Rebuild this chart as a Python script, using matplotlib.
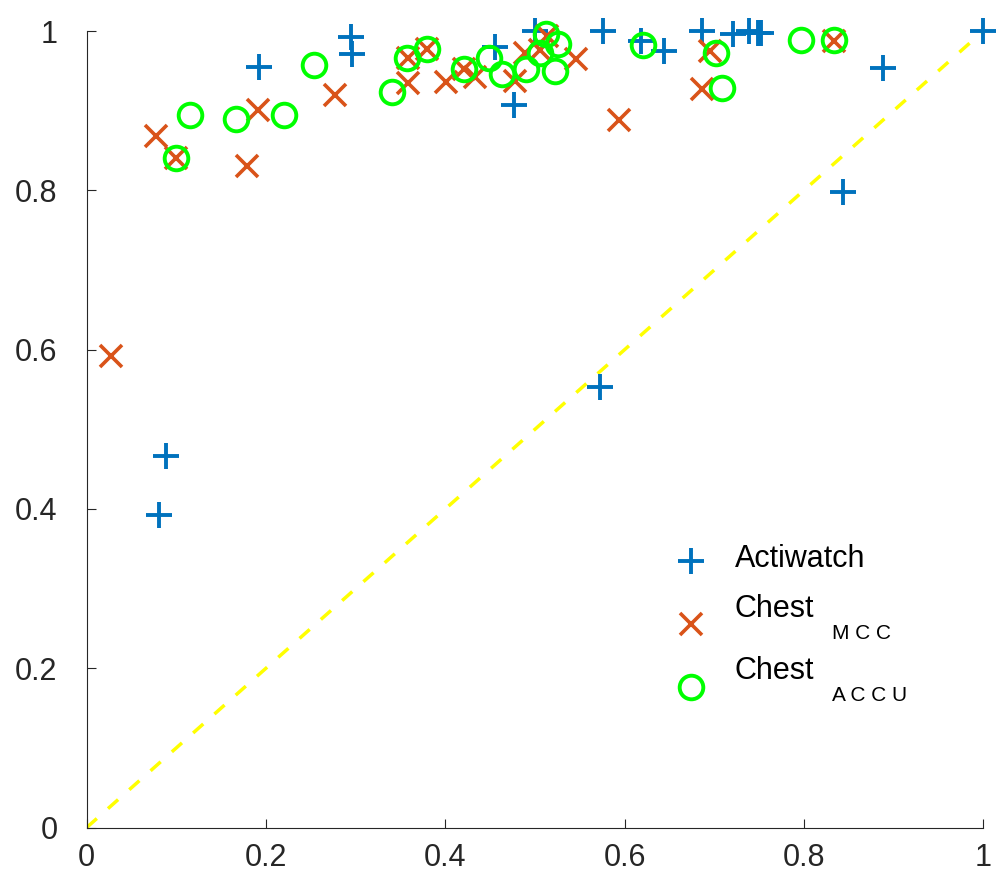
import matplotlib
matplotlib.use("Agg")
import matplotlib.pyplot as plt

plt.rcParams['font.family'] = ['Liberation Sans', 'DejaVu Sans']

# Actiwatch (+)
act_x = [0.081, 0.089, 0.192, 0.295, 0.296, 0.455, 0.477, 0.500, 0.572, 0.576,
         0.618, 0.644, 0.686, 0.721, 0.739, 0.749, 0.752, 0.843, 0.888, 1.000]
act_y = [0.392, 0.466, 0.955, 0.993, 0.971, 0.980, 0.907, 1.000, 0.553, 1.000,
         0.988, 0.975, 1.000, 0.996, 1.000, 0.997, 0.997, 0.798, 0.953, 1.000]

# Chest MCC (x)
mcc_x = [0.027, 0.077, 0.100, 0.179, 0.191, 0.277, 0.358, 0.358, 0.379, 0.401, 0.421,
         0.433, 0.478, 0.489, 0.506, 0.513, 0.546, 0.594, 0.686, 0.695, 0.833]
mcc_y = [0.592, 0.868, 0.841, 0.830, 0.901, 0.920, 0.935, 0.966, 0.978, 0.936, 0.952,
         0.942, 0.937, 0.973, 0.976, 0.994, 0.965, 0.888, 0.927, 0.975, 0.987]

# Chest ACCU (o)
accu_x = [0.100, 0.115, 0.166, 0.220, 0.254, 0.340, 0.357, 0.379, 0.421, 0.449, 0.463,
          0.490, 0.506, 0.512, 0.522, 0.526, 0.620, 0.702, 0.709, 0.797, 0.833]
accu_y = [0.841, 0.894, 0.890, 0.894, 0.957, 0.924, 0.966, 0.978, 0.952, 0.966, 0.946,
          0.952, 0.973, 0.996, 0.950, 0.984, 0.982, 0.972, 0.928, 0.989, 0.989]

ticks = [0, 0.2, 0.4, 0.6, 0.8, 1]
tick_labels = ["0", "0.2", "0.4", "0.6", "0.8", "1"]

fig = plt.figure(figsize=(9.97, 8.77), dpi=100)
ax = fig.add_axes([0.08696, 0.05644, 0.8993, 0.9082])

ax.plot([0, 1], [0, 1], color='#FFFF00', lw=2.5, linestyle=(0, (3.9, 4.3)), zorder=1)
ax.plot(act_x, act_y, '+', color='#0072BD', ms=19, mew=2.8, linestyle='none',
        clip_on=False, label='Actiwatch', zorder=3)
ax.plot(mcc_x, mcc_y, 'x', color='#D95319', ms=15.5, mew=2.6, linestyle='none',
        clip_on=False, label='Chest', zorder=4)
ax.plot(accu_x, accu_y, 'o', mfc='none', mec='#00FF00', ms=17, mew=2.8, linestyle='none',
        clip_on=False, label='Chest', zorder=5)

ax.set_xlim(0, 1)
ax.set_ylim(0, 1)
ax.set_xticks(ticks)
ax.set_xticklabels(tick_labels)
ax.set_yticks(ticks)
ax.set_yticklabels(tick_labels)
for side in ['top', 'right']:
    ax.spines[side].set_visible(False)
for side in ['left', 'bottom']:
    ax.spines[side].set_color('#262626')
    ax.spines[side].set_linewidth(0.8)
ax.tick_params(direction='in', length=6.5, width=0.8, colors='#262626', labelsize=22)
ax.tick_params(axis='x', pad=11)
ax.tick_params(axis='y', pad=21)

leg = ax.legend(loc='upper left', bbox_to_anchor=(0.6697, 0.3742),
                bbox_transform=fig.transFigure, frameon=False, fontsize=22,
                handlelength=1.5, handletextpad=0.7, labelspacing=1.07,
                borderpad=0, borderaxespad=0, numpoints=1)

# lift the labels above their markers, as in the original
fig.canvas.draw()
texts = leg.get_texts()
texts[0].set_position((0, 5))
for t in texts[1:]:
    t.set_position((0, 18))
fig.canvas.draw()

W, H = fig.bbox.width, fig.bbox.height
for t, sub in zip(texts[1:], ["M C C", "A C C U"]):
    ext = t.get_window_extent()
    fig.text((ext.x1 + 18) / W, (ext.y0 - 15) / H, sub, fontsize=15,
             va='baseline', ha='left', color='black')

fig.savefig("out.png", dpi=100)
